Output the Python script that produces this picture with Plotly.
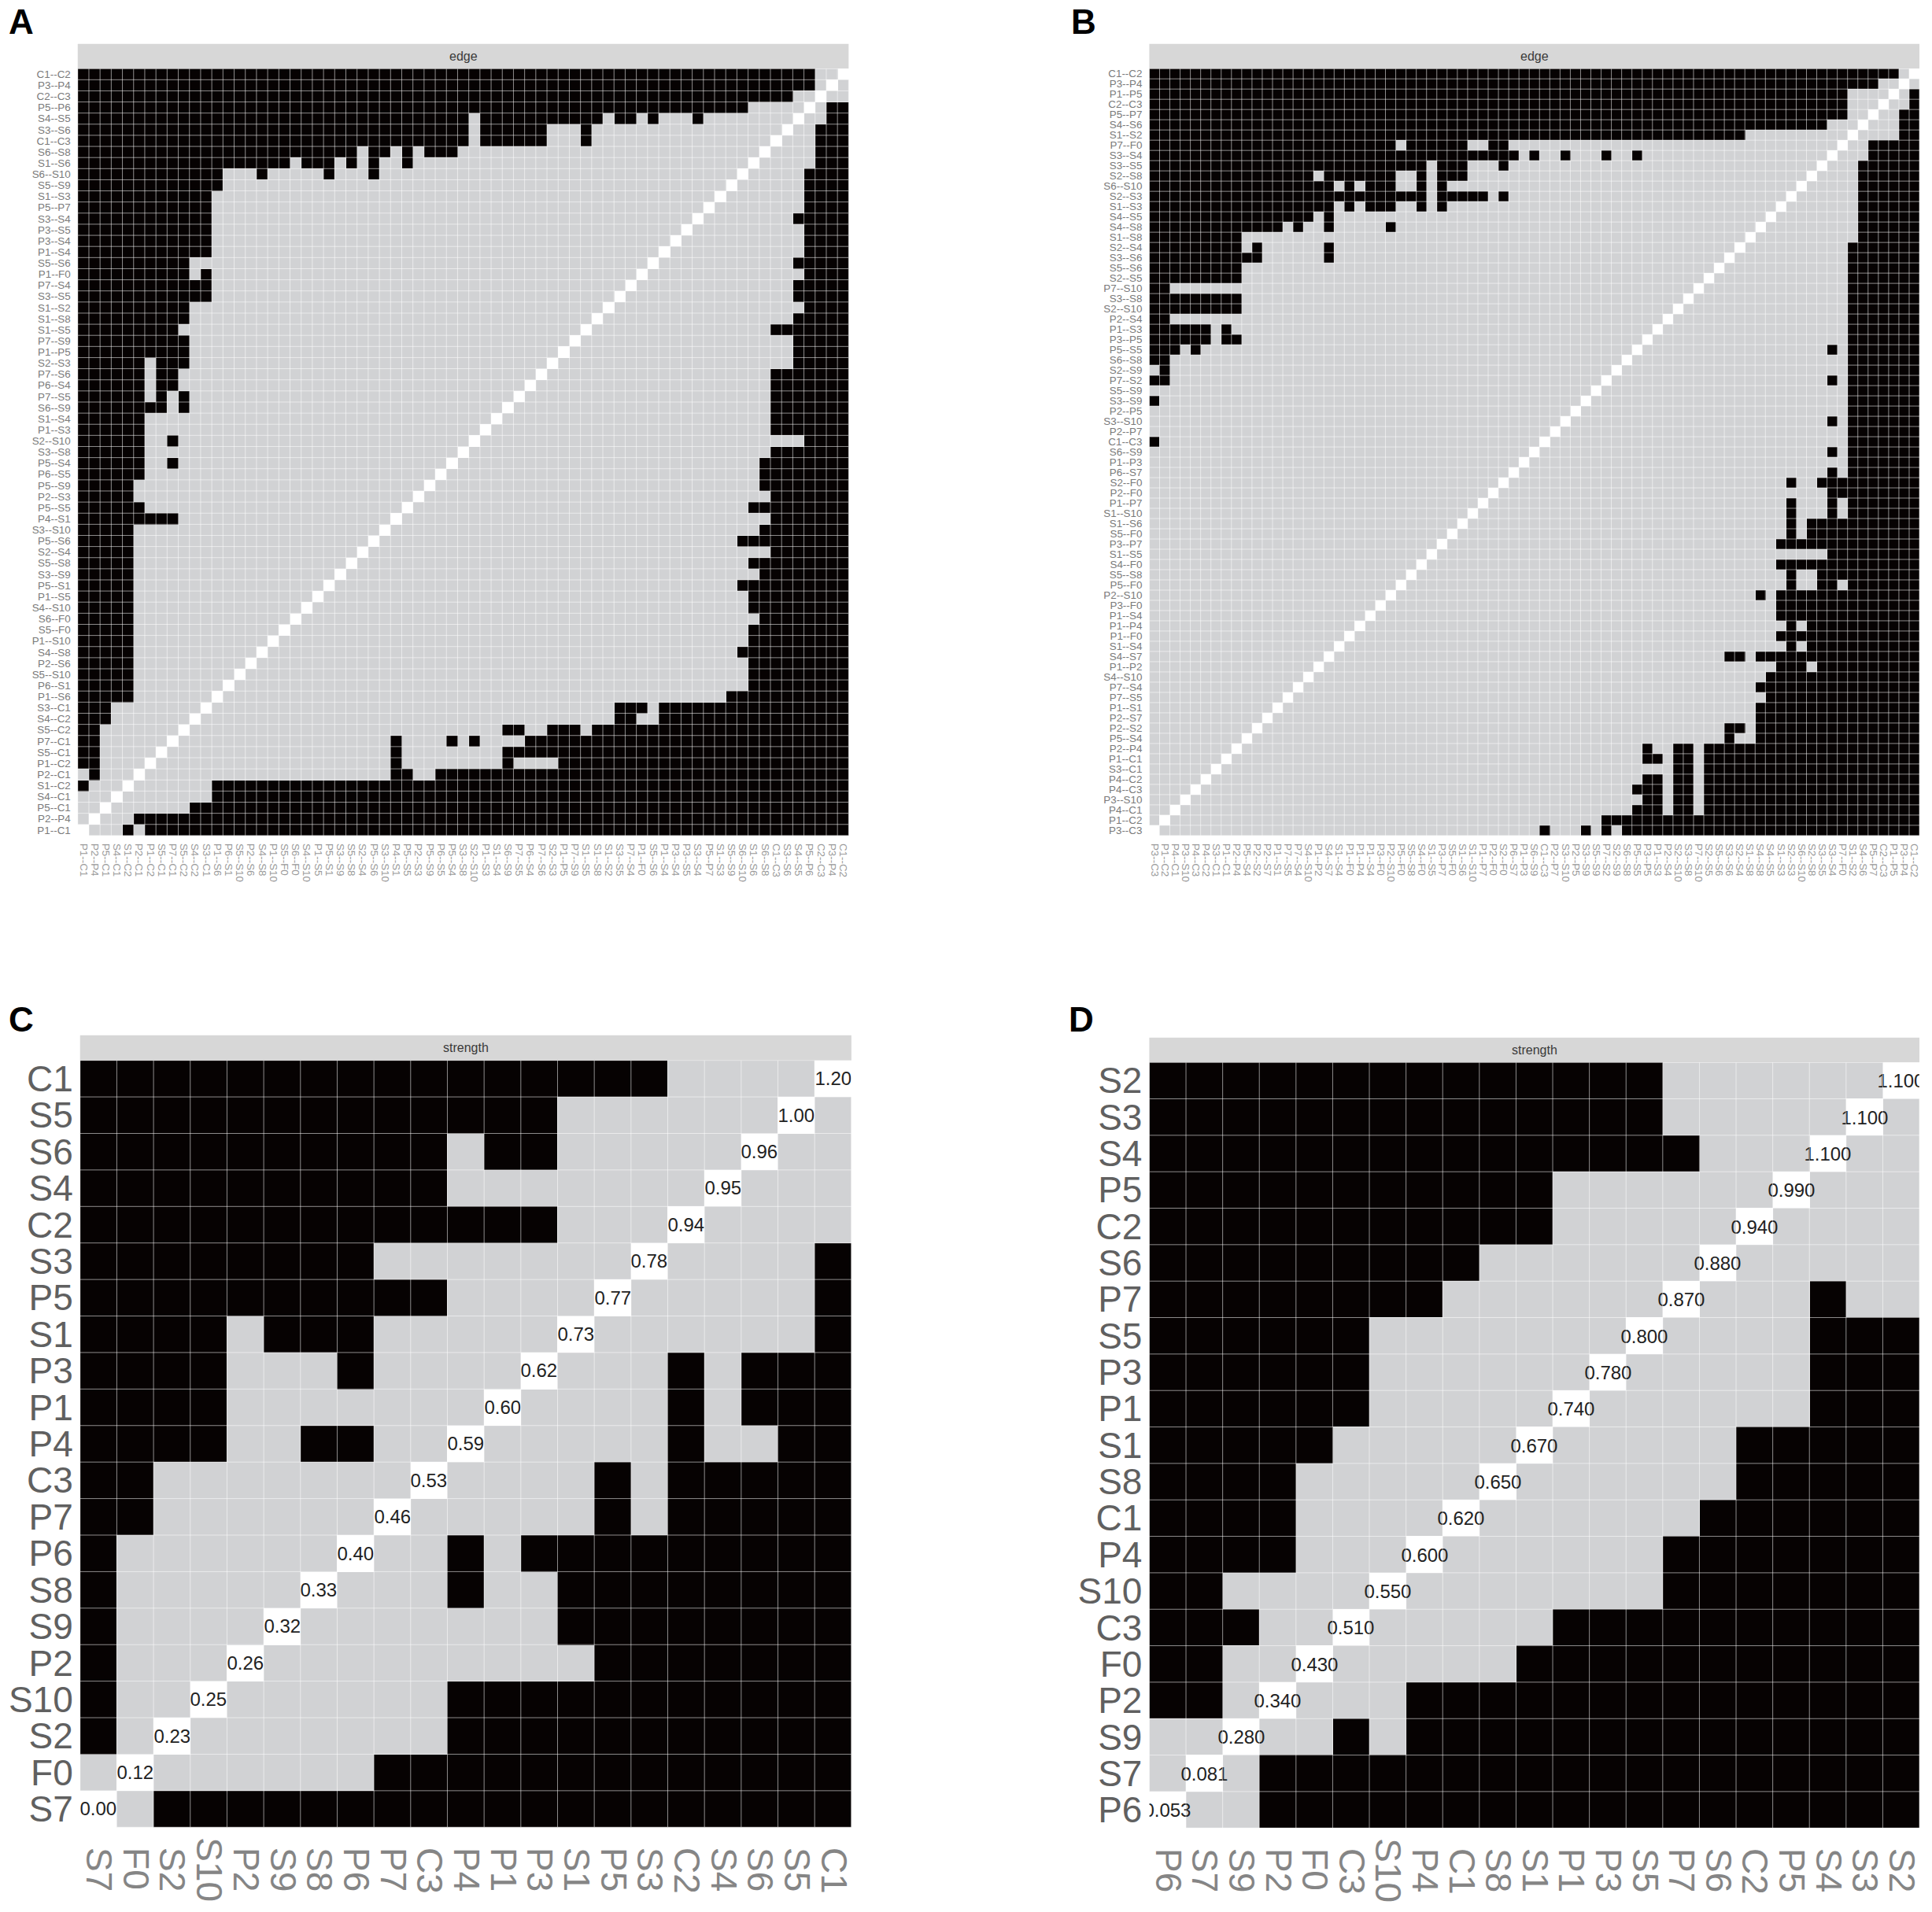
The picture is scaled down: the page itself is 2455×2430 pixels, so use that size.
"""
plot.py - edge and strength difference matrices, panels A-D (bootnet style).
"""

import plotly.graph_objects as go

WIDTH, HEIGHT = 2455, 2430

GRAY, BLACK, WHITE = "#D1D2D4", "#060202", "#FFFFFF"
STRIP = "#D7D7D7"

# edges, top row first; black cells read left to right as column spans,
# the lower right half of each matrix is the mirror of the upper left one
A_EDGES = [
    "C1--C2", "P3--P4", "C2--C3", "P5--P6", "S4--S5", "S3--S6", "C1--C3", "S6--S8", "S1--S6",
    "S6--S10", "S5--S9", "S1--S3", "P5--P7", "S3--S4", "P3--S5", "P3--S4", "P1--S4", "S5--S6",
    "P1--F0", "P7--S4", "S3--S5", "S1--S2", "S1--S8", "S1--S5", "P7--S9", "P1--P5", "S2--S3",
    "P7--S6", "P6--S4", "P7--S5", "S6--S9", "S1--S4", "P1--S3", "S2--S10", "S3--S8", "P5--S4",
    "P6--S5", "P5--S9", "P2--S3", "P5--S5", "P4--S1", "S3--S10", "P5--S6", "S2--S4", "S5--S8",
    "S3--S9", "P5--S1", "P1--S5", "S4--S10", "S6--F0", "S5--F0", "P1--S10", "S4--S8", "P2--S6",
    "S5--S10", "P6--S1", "P1--S6", "S3--C1", "S4--C2", "S5--C2", "P7--C1", "S5--C1", "P1--C2",
    "P2--C1", "S1--C2", "S4--C1", "P5--C1", "P2--P4", "P1--C1",
]
A_BLACK = [
    "0-65", "0-65", "0-63", "0-59",
    "0-34,36-46,48-49,51,55", "0-34,36-41,45", "0-34,36-41,45",
    "0-24,26-27,29,31-33", "0-18,20-22,24,26,29", "0-12,16,22,26", "0-12",
    "0-11", "0-11", "0-11", "0-11", "0-11", "0-11",
    "0-9", "0-9,11", "0-11", "0-11", "0-9", "0-9", "0-8", "0-9", "0-9",
    "0-5,7-9", "0-5,7-8", "0-5,7-8", "0-5,7,9", "0-7,9", "0-5", "0-5", "0-5,8", "0-5", "0-5,8",
    "0-5", "0-4", "0-4", "0-5", "0-8",
    "0-4", "0-4", "0-4", "0-4", "0-4", "0-4", "0-4", "0-4",
    "0-4", "0-4", "0-4", "0-4", "0-4", "0-4", "0-4", "0-4",
    "0-2", "0-2", "0-1", "0-1", "0-1", "0-1", "1", "0", "", "", "", "",
]

B_EDGES = [
    "C1--C2", "P3--P4", "P1--P5", "C2--C3", "P5--P7", "S4--S6", "S1--S2", "P7--F0", "S3--S4",
    "S3--S5", "S2--S8", "S6--S10", "S2--S3", "S1--S3", "S4--S5", "S4--S8", "S1--S8", "S2--S4",
    "S3--S6", "S5--S6", "S2--S5", "P7--S10", "S3--S8", "S2--S10", "P2--S4", "P1--S3", "P3--P5",
    "P5--S5", "S6--S8", "S2--S9", "P7--S2", "S5--S9", "S3--S9", "P2--P5", "S3--S10", "P2--P7",
    "C1--C3", "S6--S9", "P1--P3", "P6--S7", "S2--F0", "P2--F0", "P1--P7", "S1--S10", "S1--S6",
    "S5--F0", "P3--P7", "S1--S5", "S4--F0", "S5--S8", "P5--F0", "P2--S10", "P3--F0", "P1--S4",
    "P1--P4", "P1--F0", "S1--S4", "S4--S7", "P1--P2", "S4--S10", "P7--S4", "P7--S5", "P1--S1",
    "P2--S7", "P2--S2", "P5--S4", "P2--P4", "P1--C1", "S3--C1", "P4--C2", "P4--C3", "P3--S10",
    "P4--C1", "P1--C2", "P3--C3",
]
B_BLACK = [
    "0-72", "0-70", "0-67", "0-67", "0-67", "0-65", "0-57",
    "0-23,25-30,33-34", "0-35,37,40,44,47", "0-26,28-30,34", "0-15,17-23,26,28-30",
    "0-17,19,21-23,26,28", "0-26,28-32,34", "0-17,19,21-23,26,28", "0-15,17",
    "0-12,14,17,23", "0-8", "0-8,10,17", "0-10,17", "0-8", "0-8", "0-1", "0-8", "0-8", "0-1",
    "0-5,7", "0-5,7-8", "0-2,4", "0-1", "1", "0-1", "", "0", "", "", "", "0",
]

C_NODES = ["C1", "S5", "S6", "S4", "C2", "S3", "P5", "S1", "P3", "P1", "P4",
           "C3", "P7", "P6", "S8", "S9", "P2", "S10", "S2", "F0", "S7"]
C_STRENGTH = ["1.20", "1.00", "0.96", "0.95", "0.94", "0.78", "0.77", "0.73", "0.62", "0.60", "0.59",
              "0.53", "0.46", "0.40", "0.33", "0.32", "0.26", "0.25", "0.23", "0.12", "0.00"]
C_BLACK = ["0-15", "0-12", "0-9,11-12", "0-9", "0-12", "0-7", "0-9", "0-3,5-7", "0-3,7", "0-3",
           "0-3,6-7", "0-1", "0-1", "0", "0", "0", "0", "0", "0", "", ""]

D_NODES = ["S2", "S3", "S4", "P5", "C2", "S6", "P7", "S5", "P3", "P1", "S1",
           "S8", "C1", "P4", "S10", "C3", "F0", "P2", "S9", "S7", "P6"]
D_STRENGTH = ["1.100", "1.100", "1.100", "0.990", "0.940", "0.880", "0.870", "0.800", "0.780", "0.740", "0.670",
              "0.650", "0.620", "0.600", "0.550", "0.510", "0.430", "0.340", "0.280", "0.081", "0.053"]
D_BLACK = ["0-13", "0-13", "0-14", "0-10", "0-10", "0-8", "0-7", "0-5", "0-5", "0-5", "0-4",
           "0-3", "0-3", "0-3", "0-1", "0-2", "0-1", "0-1", "", "", ""]


def parse_spans(spans):
    cols = []
    for part in filter(None, spans.split(",")):
        lo, _, hi = part.partition("-")
        cols.extend(range(int(lo), int(hi or lo) + 1))
    return cols


def build_matrix(black_rows, n):
    """0 = not different (gray), 1 = different (black), 2 = diagonal (white)."""
    z = [[0] * n for _ in range(n)]
    for r, spans in enumerate(black_rows):
        row = n - 1 - r
        for col in parse_spans(spans):
            z[row][col] = 1
            z[col][row] = 1
    for i in range(n):
        z[i][i] = 2
    return z


fig = go.Figure()


def add_panel(idx, box, labels, black_rows, tick_size, standoff, tick_colors, values=None):
    left, top, right, bottom, strip_top = box
    n = len(labels)
    order = labels[::-1]
    xname, yname = ("x", "y") if idx == 1 else (f"x{idx}", f"y{idx}")

    text = None
    if values:
        vals = values[::-1]
        text = [[vals[i] if i == j else "" for j in range(n)] for i in range(n)]

    fig.add_trace(go.Heatmap(
        z=build_matrix(black_rows, n),
        x=list(range(n)),
        y=list(range(n)),
        xaxis=xname,
        yaxis=yname,
        zmin=0,
        zmax=2,
        showscale=False,
        colorscale=[[0, GRAY], [0.33, GRAY], [0.33, BLACK], [0.67, BLACK], [0.67, WHITE], [1, WHITE]],
        text=text,
        texttemplate="%{text}" if values else None,
        textfont=dict(size=24, color="#222222", family="Liberation Sans"),
        hoverinfo="skip",
    ))

    # thin half-transparent cell borders, gray over black and light over gray
    xs, ys = [], []
    for k in range(n + 1):
        xs += [k - 0.5, k - 0.5, None, -0.5, n - 0.5, None]
        ys += [-0.5, n - 0.5, None, k - 0.5, k - 0.5, None]
    fig.add_trace(go.Scatter(
        x=xs, y=ys, xaxis=xname, yaxis=yname, mode="lines",
        line=dict(color="rgba(255,255,255,0.55)", width=1),
        hoverinfo="skip", showlegend=False,
    ))

    # strength panels centre their rotated labels, a no-break space does it
    xticks = order
    if values:
        xticks = [lab if len(lab) == 3 else "\u00a0" + lab for lab in order]

    suffix = "" if idx == 1 else str(idx)
    fig.update_layout({
        f"xaxis{suffix}": dict(
            domain=[left / WIDTH, right / WIDTH], anchor=yname, range=[-0.5, n - 0.5],
            tickmode="array", tickvals=list(range(n)), ticktext=xticks, tickangle=90,
            ticks="", ticklabelstandoff=standoff[0], showgrid=False, zeroline=False,
            tickfont=dict(size=tick_size, color=tick_colors[0], family="Liberation Sans"),
        ),
        f"yaxis{suffix}": dict(
            domain=[1 - bottom / HEIGHT, 1 - top / HEIGHT], anchor=xname, range=[-0.5, n - 0.5],
            tickmode="array", tickvals=list(range(n)), ticktext=order,
            ticks="", ticklabelstandoff=standoff[1], showgrid=False, zeroline=False,
            tickfont=dict(size=tick_size, color=tick_colors[1], family="Liberation Sans"),
        ),
    })

    fig.add_shape(
        type="rect", xref="paper", yref="paper", layer="below",
        x0=left / WIDTH, x1=right / WIDTH, y0=1 - top / HEIGHT, y1=1 - strip_top / HEIGHT,
        fillcolor=STRIP, line_width=0,
    )
    fig.add_annotation(
        xref="paper", yref="paper", x=(left + right) / 2 / WIDTH, y=1 - (top + strip_top) / 2 / HEIGHT,
        text="strength" if values else "edge", showarrow=False, xanchor="center", yanchor="middle",
        font=dict(size=16, color="#3A3A3A", family="Liberation Sans"),
    )


SMALL_TICKS = ("#9A9A9A", "#7A7A7A")
LARGE_TICKS = ("#858585", "#606060")

# left, top, right, bottom, strip top in pixels
add_panel(1, (97, 84.4, 1079, 1061.5, 53), A_EDGES, A_BLACK, 13.4, (9, 8), SMALL_TICKS)
add_panel(2, (1462, 84.4, 2443, 1061.5, 53), B_EDGES, B_BLACK, 13.4, (9, 8), SMALL_TICKS)
add_panel(3, (100, 1348, 1082.5, 2325, 1316), C_NODES, C_BLACK, 46, (12, 8), LARGE_TICKS, values=C_STRENGTH)
add_panel(4, (1462, 1350.5, 2443, 2326, 1319), D_NODES, D_BLACK, 46, (12, 8), LARGE_TICKS, values=D_STRENGTH)

for letter, px, py in [("A", 7, 25), ("B", 1360, 25), ("C", 7, 1296), ("D", 1357, 1296)]:
    fig.add_annotation(
        xref="paper", yref="paper", x=px / WIDTH, y=1 - py / HEIGHT, text=f"<b>{letter}</b>",
        showarrow=False, xanchor="left", yanchor="middle",
        font=dict(size=44, color="#000000", family="Liberation Sans"),
    )

fig.update_layout(
    width=WIDTH,
    height=HEIGHT,
    margin=dict(l=0, r=0, t=0, b=0),
    paper_bgcolor="#FFFFFF",
    plot_bgcolor="#FFFFFF",
    showlegend=False,
)

fig.write_html(
    "out.html",
    config={"displayModeBar": False},
    post_script="document.body.style.margin = '0';",
)
